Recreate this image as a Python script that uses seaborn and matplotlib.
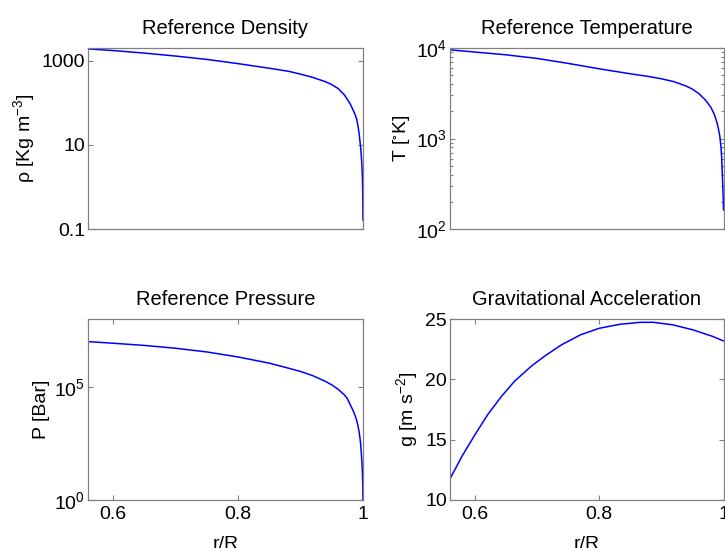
import numpy as np
import pandas as pd
import seaborn as sns
import matplotlib
matplotlib.use("Agg")
import matplotlib.pyplot as plt
from matplotlib.ticker import NullLocator, FixedLocator, FixedFormatter, LogLocator

# ---- data ----
r = [0.56, 0.60, 0.65, 0.70, 0.75, 0.80, 0.85, 0.88, 0.90, 0.92, 0.94, 0.95, 0.96,
     0.97, 0.975, 0.98, 0.985, 0.988, 0.99, 0.992, 0.994, 0.996, 0.997, 0.998,
     0.999, 0.9995, 1.0]
density = [1905, 1738, 1514, 1288, 1072, 851, 661, 562, 479, 398, 316, 269, 219,
           155, 120, 91, 63, 50, 40, 28, 17.4, 9.3, 6.3, 3.8,
           1.8, 0.8, 0.16]
temperature = [9550, 9020, 8410, 7670, 6760, 5890, 5190, 4840, 4570, 4250, 3800, 3510, 3150,
               2700, 2450, 2190, 1860, 1620, 1450, 1260, 1070, 794, 631, 417,
               282, 224, 162]
pressure = [1.0e7, 8.5e6, 6.8e6, 5.1e6, 3.5e6, 2.1e6, 1.12e6, 6.8e5, 4.8e5, 3.1e5, 1.74e5, 1.23e5, 7.9e4,
            4.5e4, 3.0e4, 1.55e4, 7.9e3, 4.8e3, 3.2e3, 1.86e3, 955, 355, 155, 63,
            18, 6.3, 1.0]
r_g = [0.56, 0.579, 0.60, 0.621, 0.643, 0.664, 0.691, 0.713, 0.739, 0.77, 0.80,
       0.833, 0.865, 0.886, 0.918, 0.951, 0.983, 1.0]
gravity = [11.75, 13.6, 15.4, 17.1, 18.6, 19.85, 21.1, 21.95, 22.85, 23.69, 24.23,
           24.56, 24.72, 24.73, 24.52, 24.1, 23.55, 23.18]

titles = ["Reference Density", "Reference Temperature", "Reference Pressure",
          "Gravitational Acceleration"]
ylabels = [r"ρ [Kg m$^{-3}$]", r"T [$^{\circ}$K]", "P [Bar]", r"g [m s$^{-2}$]"]
xticks = [0.6, 0.8, 1.0]
xticklabels = ["0.6", "0.8", "1"]

sns.set_theme(style="white")
plt.rcParams["font.family"] = ["Liberation Sans", "DejaVu Sans"]
plt.rcParams["mathtext.fontset"] = "custom"
plt.rcParams["mathtext.rm"] = "Liberation Sans"
plt.rcParams["mathtext.it"] = "Liberation Sans"
plt.rcParams["mathtext.default"] = "regular"

FS = 14
fig = plt.figure(figsize=(7.25, 5.48), dpi=100)
W, H = 725, 548
def add_ax(x0, x1, ytop, ybot):
    return fig.add_axes([x0 / W, 1 - ybot / H, (x1 - x0) / W, (ybot - ytop) / H])

ax_d = add_ax(88, 363, 48, 229)
ax_t = add_ax(450, 723.5, 48, 229)
ax_p = add_ax(88, 363, 319, 500)
ax_g = add_ax(450, 723.5, 319, 500)
axes = [ax_d, ax_t, ax_p, ax_g]

blue = "#0000ff"
sns.lineplot(x=r, y=density, ax=ax_d, color=blue, lw=1.1)
sns.lineplot(x=r, y=temperature, ax=ax_t, color=blue, lw=1.1)
sns.lineplot(x=r, y=pressure, ax=ax_p, color=blue, lw=1.1)
sns.lineplot(x=r_g, y=gravity, ax=ax_g, color=blue, lw=1.1)

for ax in [ax_d, ax_t, ax_p]:
    ax.set_yscale("log")

ax_d.set_ylim(0.1, 2000)
ax_d.yaxis.set_major_locator(FixedLocator([0.1, 10, 1000]))
ax_d.yaxis.set_major_formatter(FixedFormatter(["0.1", "10", "1000"]))
ax_d.yaxis.set_minor_locator(NullLocator())

ax_t.set_ylim(100, 10000)
ax_t.yaxis.set_major_locator(FixedLocator([100, 1000, 10000]))
ax_t.yaxis.set_major_formatter(FixedFormatter([r"$10^{2}$", r"$10^{3}$", r"$10^{4}$"]))
ax_t.yaxis.set_minor_locator(LogLocator(base=10, subs=np.arange(2, 10)))

ax_p.set_ylim(1, 1e8)
ax_p.yaxis.set_major_locator(FixedLocator([1, 1e5]))
ax_p.yaxis.set_major_formatter(FixedFormatter([r"$10^{0}$", r"$10^{5}$"]))
ax_p.yaxis.set_minor_locator(NullLocator())

ax_g.set_ylim(10, 25)
ax_g.set_yticks([10, 15, 20, 25])
ax_g.set_yticklabels(["10", "15", "20", "25"])

label_x = [-0.185, -0.140, -0.138, -0.110]
for i, ax in enumerate(axes):
    ax.set_xlim(0.56, 1.0)
    ax.set_title(titles[i], fontsize=14.5, pad=10, color="black")
    ax.set_ylabel(ylabels[i], fontsize=FS, color="black")
    ax.yaxis.set_label_coords(label_x[i], 0.5)
    for s in ax.spines.values():
        s.set_color("#808080")
        s.set_linewidth(0.9)
    ax.tick_params(axis="both", which="both", direction="in", colors="#808080",
                   labelcolor="black", labelsize=FS, top=True, right=True,
                   left=True, bottom=True, width=0.8)
    ax.tick_params(axis="both", which="major", length=3.5)
    ax.tick_params(axis="both", which="minor", length=2)
    ax.tick_params(axis="y", which="both", pad=2)
    ax.tick_params(axis="x", which="both", pad=4)
    ax.grid(False)
    if i < 2:
        ax.set_xticks([])
        ax.set_xlabel("")
    else:
        ax.set_xticks(xticks)
        ax.set_xticklabels(xticklabels)
        ax.set_xlabel("r/R", fontsize=FS, color="black")
        ax.xaxis.set_label_coords(0.5, -0.2)

fig.savefig("out.png", dpi=100)
